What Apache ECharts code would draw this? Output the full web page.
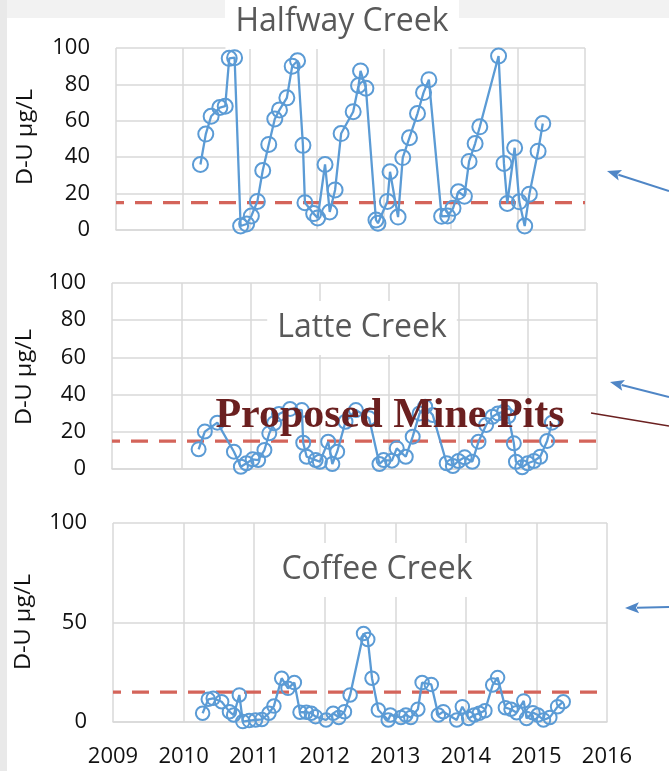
<!DOCTYPE html>
<html>
<head>
<meta charset="utf-8">
<script src="https://cdn.jsdelivr.net/npm/echarts@6/dist/echarts.min.js"></script>
<style>
html,body{margin:0;padding:0;background:#fff;}
#chart{width:669px;height:771px;}
</style>
</head>
<body>
<div id="chart"></div>
<script>
// ---- data ----
const yearTicks = [2009, 2010, 2011, 2012, 2013, 2014, 2015, 2016];
const panelTitles = ['Halfway Creek', 'Latte Creek', 'Coffee Creek'];
const axisName = 'D-U µg/L';
const annotationText = 'Proposed Mine Pits';
const threshold = 15;

const halfwayYears = [2010.26,2010.34,2010.42,2010.55,2010.63,2010.69,2010.77,2010.86,2010.95,2011.02,2011.11,2011.19,2011.28,2011.37,2011.44,2011.55,2011.63,2011.71,2011.79,2011.82,2011.95,2012.01,2012.12,2012.19,2012.27,2012.36,2012.54,2012.62,2012.65,2012.73,2012.88,2012.91,2013.05,2013.09,2013.21,2013.28,2013.38,2013.50,2013.59,2013.67,2013.86,2013.95,2014.03,2014.11,2014.20,2014.27,2014.36,2014.43,2014.71,2014.79,2014.84,2014.95,2015.02,2015.10,2015.17,2015.30,2015.37];
const halfwayValues = [36,52.7,62.5,67.3,68,94.3,94.7,2.2,3.3,7.7,15.7,32.7,47,61,66,72.6,90,93,46.5,15,9,6.6,36,9.9,22,53,65,79.4,87.4,77.9,5.5,3.7,15.7,32,7.1,39.8,50.7,64,75.5,82.6,7.5,7.7,11.9,21,18.6,37.7,47.5,56.7,95.6,36.6,14.6,45.2,15.5,2.2,19.7,43.3,58.5];

const latteYears = [2010.25,2010.34,2010.52,2010.76,2010.86,2010.94,2011.03,2011.11,2011.20,2011.27,2011.34,2011.41,2011.57,2011.74,2011.76,2011.81,2011.94,2012.00,2012.12,2012.18,2012.25,2012.37,2012.52,2012.71,2012.86,2012.92,2013.04,2013.11,2013.24,2013.34,2013.44,2013.52,2013.63,2013.83,2013.92,2014.00,2014.09,2014.20,2014.29,2014.40,2014.49,2014.57,2014.66,2014.72,2014.80,2014.83,2014.92,2015.00,2015.09,2015.18,2015.28,2015.35];
const latteValues = [10.6,20.1,24.9,9.3,1.2,3.1,5.2,4.8,10.2,19.2,24.6,29.6,32.3,31.7,14.1,6.6,4.8,3.9,14.7,2.7,9.3,25.4,31.7,27.3,2.7,4.8,4.5,11.1,6.6,17.4,29.9,33.5,29.0,3.1,1.6,4.3,6.3,3.9,14.7,23.7,28.1,29.9,30.8,28.5,13.8,3.9,0.9,3.1,4.3,6.6,15.1,24.9];

const coffeeYears = [2010.27,2010.35,2010.42,2010.54,2010.65,2010.71,2010.79,2010.84,2010.93,2011.02,2011.11,2011.21,2011.28,2011.39,2011.48,2011.57,2011.65,2011.74,2011.81,2011.87,2012.02,2012.12,2012.20,2012.28,2012.36,2012.55,2012.61,2012.67,2012.76,2012.90,2012.93,2013.08,2013.15,2013.22,2013.32,2013.38,2013.51,2013.61,2013.68,2013.87,2013.95,2014.04,2014.12,2014.19,2014.27,2014.38,2014.45,2014.56,2014.64,2014.72,2014.82,2014.86,2014.95,2015.02,2015.10,2015.19,2015.30,2015.38];
const coffeeValues = [4.4,11.4,11.9,10.2,5.2,3.5,13.6,0.2,0.7,1,1.3,4.4,8,22,16.9,19.8,4.9,4.9,4.4,2.7,1,4.4,2.3,5.2,13.6,44.5,41.5,22,6,1,3.5,2.3,3.5,2.3,6.4,19.8,18.9,3.5,5.2,1,7.7,1.8,3.5,4.4,5.7,18.6,22.3,7.2,6.4,4.7,10.6,1.8,4.7,3.5,1,2.3,7.7,10.2];

// ---- layout / style ----
const BLUE = '#5b9bd5';
const GRIDC = '#d9d9d9';
const RED = '#d4645a';
const FONT = 'Open Sans';

const panels = [
  {years: halfwayYears, values: halfwayValues, grid: {left: 116, top: 48, width: 469, height: 182}, yInterval: 20, sym: 15, showX: false},
  {years: latteYears, values: latteValues, grid: {left: 112, top: 283, width: 485, height: 186}, yInterval: 20, sym: 14, showX: false},
  {years: coffeeYears, values: coffeeValues, grid: {left: 113, top: 523, width: 494, height: 199}, yInterval: 50, sym: 13.5, showX: true}
];

const zip = (a, b) => a.map((v, i) => [v, b[i]]);

const grids = [], xAxes = [], yAxes = [], series = [];
panels.forEach((p, i) => {
  grids.push(Object.assign({containLabel: false}, p.grid));
  xAxes.push({
    type: 'value', gridIndex: i, min: yearTicks[0], max: yearTicks[yearTicks.length - 1], interval: 1,
    axisLine: {show: true, onZero: false, lineStyle: {color: GRIDC, width: 1.5}},
    axisTick: {show: false},
    splitLine: {show: true, lineStyle: {color: GRIDC, width: 1.5}},
    axisLabel: {show: p.showX, margin: 24, fontSize: 22, fontFamily: FONT, color: '#111',
      formatter: v => yearTicks.includes(v) ? String(v) : ''}
  });
  yAxes.push({
    type: 'value', gridIndex: i, min: 0, max: 100, interval: p.yInterval,
    axisLine: {show: false}, axisTick: {show: false},
    splitLine: {show: true, lineStyle: {color: GRIDC, width: 1.5}},
    axisLabel: {margin: 26, fontSize: 22, fontFamily: FONT, color: '#111', padding: [4, 0, 0, 0]}
  });
  series.push({
    type: 'line', xAxisIndex: i, yAxisIndex: i, z: 3,
    data: zip(p.years, p.values),
    symbol: 'circle', symbolSize: p.sym,
    itemStyle: {color: 'rgba(255,255,255,0)', borderColor: BLUE, borderWidth: 2},
    lineStyle: {color: BLUE, width: 2.3},
    emphasis: {disabled: true}
  });
  series.push({
    type: 'line', xAxisIndex: i, yAxisIndex: i, z: 2,
    data: [[yearTicks[0], threshold], [yearTicks[yearTicks.length - 1], threshold]],
    symbol: 'none',
    lineStyle: {color: RED, width: 3.2, type: [17, 11], dashOffset: 9},
    emphasis: {disabled: true}
  });
});

function arrow(tail, tip, color) {
  const dx = tip[0] - tail[0], dy = tip[1] - tail[1];
  const len = Math.hypot(dx, dy), ux = dx / len, uy = dy / len;
  const hl = 14, hw = 5.5;
  const bx = tip[0] - ux * hl, by = tip[1] - uy * hl;
  return [
    {type: 'line', z: 50, shape: {x1: tail[0], y1: tail[1], x2: bx + ux * 2, y2: by + uy * 2},
      style: {stroke: color, lineWidth: 2}},
    {type: 'polygon', z: 50, shape: {points: [[tip[0], tip[1]], [bx - uy * hw, by + ux * hw], [bx + ux * 3, by + uy * 3], [bx + uy * hw, by - ux * hw]]},
      style: {fill: color}}
  ];
}

const titlePos = [[342, 22], [362, 328], [377, 570]];
const namePos = [[26, 137], [25, 377], [24, 622]];

const graphic = [
  {type: 'rect', z: -10, shape: {x: 0, y: 0, width: 225, height: 18}, style: {fill: '#f2f2f2'}},
  {type: 'rect', z: -10, shape: {x: 459, y: 0, width: 210, height: 18}, style: {fill: '#f2f2f2'}},
  {type: 'rect', z: -9, shape: {x: 0, y: 0, width: 7, height: 771}, style: {fill: '#e9e9e9'}}
];
panelTitles.forEach((t, i) => {
  graphic.push({type: 'text', z: 1, x: titlePos[i][0], y: titlePos[i][1],
    style: {text: t, font: '32px "Open Sans"', fill: '#595959', align: 'center', verticalAlign: 'middle',
      backgroundColor: '#fff', padding: [10, 10], lineHeight: 34}});
  graphic.push({type: 'text', z: 5, x: namePos[i][0], y: namePos[i][1], rotation: Math.PI / 2, scaleX: 1.12,
    style: {text: axisName, font: '21px "Open Sans"', fill: '#111', align: 'center', verticalAlign: 'middle'}});
});
graphic.push({type: 'text', z: 100, x: 390, y: 416,
  style: {text: annotationText, font: 'bold 42px "Liberation Serif"', fill: '#6b2020', align: 'center', verticalAlign: 'middle'}});
graphic.push({type: 'line', z: 50, shape: {x1: 591, y1: 413, x2: 669, y2: 426}, style: {stroke: '#6b2020', lineWidth: 1.6}});
graphic.push(...arrow([669, 191], [607, 171], '#4f86c6'));
graphic.push(...arrow([669, 397], [610, 382], '#4f86c6'));
graphic.push(...arrow([669, 607], [625, 608], '#4f86c6'));

const chart = echarts.init(document.getElementById('chart'), null, {renderer: 'canvas'});
chart.setOption({
  animation: false,
  backgroundColor: '#fff',
  grid: grids, xAxis: xAxes, yAxis: yAxes, series: series,
  graphic: graphic
});
</script>
</body>
</html>
